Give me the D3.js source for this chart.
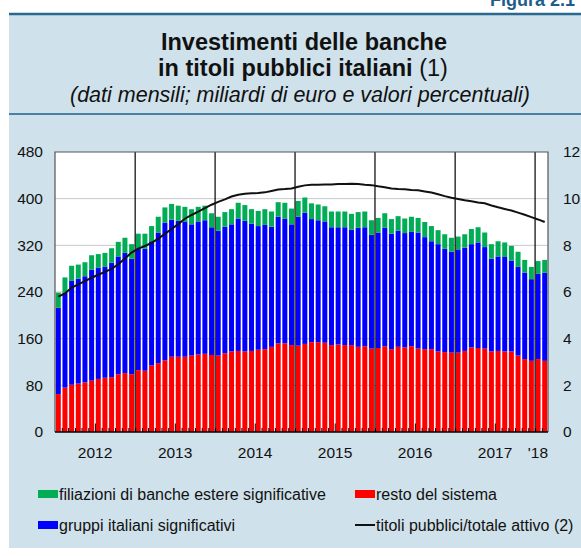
<!DOCTYPE html>
<html>
<head>
<meta charset="utf-8">
<script src="https://cdn.jsdelivr.net/npm/d3@7"></script>
<style>
  body { margin: 0; background: #fff; }
  text { font-family: "Liberation Sans", Arial, sans-serif; }
</style>
</head>
<body>
<svg id="chart"></svg>
<script>
// dati mensili gen 2012 - feb 2018
var mesi = d3.timeMonths(new Date(2012, 0, 1), new Date(2018, 2, 1));
var anni = ["2012", "2013", "2014", "2015", "2016", "2017", "'18"];
var tickSx = [0, 80, 160, 240, 320, 400, 480];
var tickDx = [0, 2, 4, 6, 8, 10, 12];

// miliardi di euro
var resto = [65, 76, 81, 83, 85, 88, 91, 93, 94, 99, 101, 99,
  106, 105, 114, 118, 123, 129, 129, 129, 131, 133, 134, 132,
  131, 135, 138, 139, 138, 139, 141, 142, 146, 152, 152, 149,
  148, 151, 154, 154, 153, 149, 150, 149, 149, 146, 147, 143,
  144, 147, 142, 146, 145, 147, 143, 142, 142, 138, 137, 136,
  136, 139, 145, 144, 143, 138, 139, 138, 138, 131, 125, 122,
  125, 122];
var gruppi = [148, 163, 178, 180, 182, 190, 191, 190, 196, 202, 206, 198,
  209, 209, 213, 224, 236, 235, 233, 232, 225, 228, 229, 219,
  214, 217, 218, 227, 224, 218, 212, 213, 206, 217, 214, 207,
  221, 225, 211, 209, 208, 202, 201, 202, 198, 204, 204, 195,
  198, 203, 198, 199, 196, 196, 199, 192, 185, 184, 177, 173,
  177, 177, 177, 181, 174, 159, 162, 162, 156, 152, 148, 140,
  146, 151];
var filiazioni = [26, 26, 26, 24, 24, 25, 23, 24, 25, 25, 26, 25,
  25, 26, 26, 27, 26, 27, 26, 25, 26, 25, 25, 24,
  24, 25, 26, 27, 27, 25, 26, 27, 26, 25, 27, 27,
  27, 26, 27, 27, 26, 27, 27, 27, 27, 27, 27, 25,
  25, 25, 25, 25, 25, 26, 25, 26, 26, 24, 25, 24,
  22, 23, 26, 26, 25, 25, 26, 25, 25, 26, 22, 21,
  22, 22];
// valori percentuali (scala destra)
var quota = [5.80, 5.94, 6.19, 6.33, 6.47, 6.61, 6.74, 6.86, 6.99, 7.19, 7.44, 7.69,
  7.86, 7.97, 8.11, 8.29, 8.49, 8.70, 8.91, 9.14, 9.30, 9.44, 9.59, 9.74,
  9.86, 9.97, 10.09, 10.17, 10.21, 10.23, 10.24, 10.27, 10.33, 10.39, 10.41, 10.44,
  10.51, 10.57, 10.60, 10.60, 10.61, 10.61, 10.63, 10.63, 10.64, 10.63, 10.60, 10.58,
  10.53, 10.49, 10.44, 10.41, 10.40, 10.37, 10.36, 10.31, 10.26, 10.19, 10.11, 10.04,
  9.99, 9.93, 9.89, 9.84, 9.80, 9.71, 9.63, 9.56, 9.49, 9.40, 9.31, 9.21,
  9.11, 9.00];

var serie = ["resto", "gruppi", "filiazioni"];
var colori = {resto: "#ff0000", gruppi: "#0000ff", filiazioni: "#00ad55"};

var W = 581, H = 556;
var pL = 55, pR = 548, pT = 152, pB = 432;

var svg = d3.select("#chart").attr("width", W).attr("height", H);

svg.append("rect").attr("x", 9).attr("y", 14).attr("width", W - 9).attr("height", 534)
  .attr("fill", "#cfe1eb");
svg.append("line").attr("x1", 9).attr("x2", W).attr("y1", 14).attr("y2", 14)
  .attr("stroke", "#2a6890").attr("stroke-width", 2.5);
svg.append("line").attr("x1", 9).attr("x2", W).attr("y1", 114).attr("y2", 114)
  .attr("stroke", "#4a80a3").attr("stroke-width", 2);

svg.append("text").attr("x", 490).attr("y", 5.5).attr("font-size", 18).attr("font-weight", "bold")
  .attr("fill", "#1d5d8c").text("Figura 2.1");

svg.append("text").attr("x", 304).attr("y", 50).attr("text-anchor", "middle")
  .attr("font-size", 23.5).attr("font-weight", "bold").attr("fill", "#111")
  .text("Investimenti delle banche");
var t2 = svg.append("text").attr("x", 303).attr("y", 76).attr("text-anchor", "middle")
  .attr("font-size", 23.5).attr("fill", "#111");
t2.append("tspan").attr("font-weight", "bold").text("in titoli pubblici italiani");
t2.append("tspan").text(" (1)");
svg.append("text").attr("x", 300).attr("y", 102).attr("text-anchor", "middle")
  .attr("font-size", 21.5).attr("font-style", "italic").attr("fill", "#111")
  .text("(dati mensili; miliardi di euro e valori percentuali)");

// scale
var x = d3.scaleBand().domain(d3.range(mesi.length)).range([pL, pR]).paddingInner(0.25).paddingOuter(0.12);
var xm = d3.scaleTime().domain([mesi[0], d3.timeMonth.offset(mesi[mesi.length - 1], 1)]).range([pL, pR]);
var y = d3.scaleLinear().domain([0, 480]).range([pB, pT]);
var y2 = d3.scaleLinear().domain([0, 12]).range([pB, pT]);

svg.append("rect").attr("x", pL).attr("y", pT).attr("width", pR - pL).attr("height", pB - pT)
  .attr("fill", "#fff");

// griglia
svg.append("g").selectAll("line").data(tickSx.slice(1, -1)).enter().append("line")
  .attr("x1", pL).attr("x2", pR)
  .attr("y1", function(d) { return y(d); }).attr("y2", function(d) { return y(d); })
  .attr("stroke", "#c8c8c8").attr("stroke-width", 1);

// barre impilate
var tabella = mesi.map(function(m, i) {
  return {i: i, resto: resto[i], gruppi: gruppi[i], filiazioni: filiazioni[i]};
});
var stack = d3.stack().keys(serie)(tabella);

svg.append("g").selectAll("g").data(stack).enter().append("g")
  .attr("fill", function(d) { return colori[d.key]; })
  .selectAll("rect").data(function(d) { return d; }).enter().append("rect")
  .attr("x", function(d) { return x(d.data.i); })
  .attr("width", x.bandwidth())
  .attr("y", function(d) { return y(d[1]); })
  .attr("height", function(d) { return y(d[0]) - y(d[1]); });

// separatori anni
var inizioAnni = mesi.filter(function(m) { return m.getMonth() === 0 && m.getFullYear() > 2012; });
svg.append("g").selectAll("line").data(inizioAnni).enter().append("line")
  .attr("x1", function(d) { return xm(d); }).attr("x2", function(d) { return xm(d); })
  .attr("y1", pT).attr("y2", pB)
  .attr("stroke", "#000").attr("stroke-width", 1.2);

// linea quota
var linea = d3.line()
  .x(function(d, i) { return x(i) + x.bandwidth() / 2; })
  .y(function(d) { return y2(d); });
svg.append("path").datum(quota).attr("d", linea)
  .attr("fill", "none").attr("stroke", "#111").attr("stroke-width", 2);

// bordi
svg.append("path").attr("d", "M" + pL + "," + pB + "V" + pT + "H" + pR + "V" + pB)
  .attr("fill", "none").attr("stroke", "#555").attr("stroke-width", 1.2);
svg.append("line").attr("x1", pL).attr("x2", pR).attr("y1", pB).attr("y2", pB)
  .attr("stroke", "#000").attr("stroke-width", 1.5);

// tacche mensili
svg.append("g").selectAll("line").data(mesi.slice(1)).enter().append("line")
  .attr("x1", function(d) { return xm(d) + 0.5; }).attr("x2", function(d) { return xm(d) + 0.5; })
  .attr("y1", pB)
  .attr("y2", function(d) { return d.getMonth() === 6 ? pB - 8.5 : pB - 4; })
  .attr("stroke", "#000").attr("stroke-width", 1);

// assi
var assSx = svg.append("g").attr("transform", "translate(" + (pL - 12) + ",0)")
  .call(d3.axisLeft(y).tickValues(tickSx).tickSize(0).tickPadding(0));
var assDx = svg.append("g").attr("transform", "translate(" + (pR + 15) + ",0)")
  .call(d3.axisRight(y2).tickValues(tickDx).tickSize(0).tickPadding(0));
[assSx, assDx].forEach(function(a) {
  a.select(".domain").remove();
  a.selectAll("text").attr("font-size", 15.5).attr("fill", "#111")
    .style("font-family", "'Liberation Sans', Arial, sans-serif");
});

svg.append("g").selectAll("text").data(anni).enter().append("text")
  .attr("x", function(d, i) {
    if (i === anni.length - 1) return pR;
    return (xm(new Date(2012 + i, 0, 1)) + xm(new Date(2013 + i, 0, 1))) / 2;
  })
  .attr("y", 458)
  .attr("text-anchor", function(d, i) { return i === anni.length - 1 ? "end" : "middle"; })
  .attr("font-size", 15.5).attr("fill", "#111")
  .text(function(d) { return d; });

// legenda
var voci = [
  {k: "filiazioni", t: "filiazioni di banche estere significative", x: 38, y: 494},
  {k: "gruppi", t: "gruppi italiani significativi", x: 38, y: 525},
  {k: "resto", t: "resto del sistema", x: 355, y: 494},
  {k: "linea", t: "titoli pubblici/totale attivo (2)", x: 355, y: 525}
];
var leg = svg.append("g").selectAll("g").data(voci).enter().append("g")
  .attr("transform", function(d) { return "translate(" + d.x + "," + d.y + ")"; });
leg.filter(function(d) { return d.k !== "linea"; }).append("rect")
  .attr("x", 0).attr("y", -4).attr("width", 20).attr("height", 8)
  .attr("fill", function(d) { return colori[d.k]; });
leg.filter(function(d) { return d.k === "linea"; }).append("line")
  .attr("x1", 0).attr("x2", 20).attr("y1", 0).attr("y2", 0)
  .attr("stroke", "#111").attr("stroke-width", 2);
leg.append("text").attr("x", 21).attr("y", 5.5)
  .attr("font-size", 16).attr("fill", "#111")
  .text(function(d) { return d.t; });
</script>
</body>
</html>
